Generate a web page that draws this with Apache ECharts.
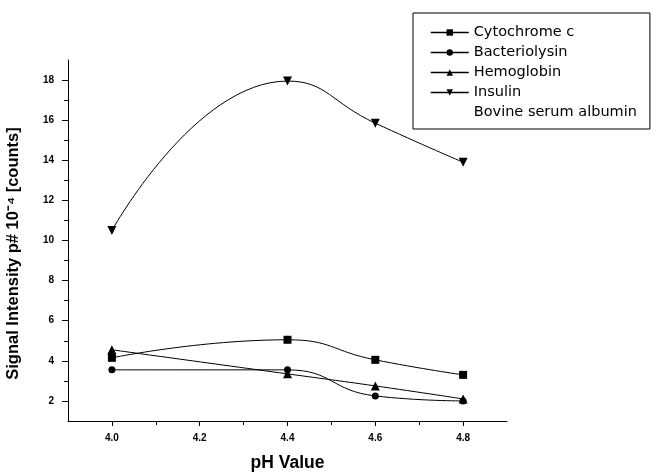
<!DOCTYPE html>
<html>
<head>
<meta charset="utf-8">
<script src="https://cdn.jsdelivr.net/npm/echarts@6/dist/echarts.min.js"></script>
<style>
    html, body { margin: 0; padding: 0; background: #fff; }
    #main { width: 653px; height: 472px; }
</style>
</head>
<body>
<div id="main"></div>
<script>
// values
var phValues = [4.0, 4.4, 4.6, 4.8];
var cytochrome = [4.15, 5.05, 4.05, 3.3];
var bacteriolysin = [3.55, 3.55, 2.25, 2.0];
var hemoglobin = [4.55, 3.35, 2.75, 2.1];
var insulin = [10.5, 17.95, 15.85, 13.9];

var xMajor = [4.0, 4.2, 4.4, 4.6, 4.8];
var xMinor = [4.1, 4.3, 4.5, 4.7];
var yMajor = [2, 4, 6, 8, 10, 12, 14, 16, 18];
var yMinor = [3, 5, 7, 9, 11, 13, 15, 17];

function pairs(ys) {
    var out = [];
    for (var i = 0; i < phValues.length; i++) {
        out.push([phValues[i], ys[i]]);
    }
    return out;
}

var myChart = echarts.init(document.getElementById('main'));

var labelFont = {
    color: '#000',
    fontFamily: 'Liberation Sans',
    fontSize: 10,
    fontWeight: 'bold'
};

function lineSeries(name, data, symbol, size) {
    return {
        name: name,
        type: 'line',
        smooth: true,
        data: pairs(data),
        symbol: symbol,
        symbolSize: size,
        itemStyle: {color: '#000'},
        lineStyle: {color: '#000', width: 1},
        emphasis: {disabled: true}
    };
}

var option = {
    animation: false,
    backgroundColor: '#fff',
    grid: {left: 68, right: 146, top: 60, bottom: 51, containLabel: false, outerBoundsMode: 'none'},
    legend: {
        orient: 'vertical',
        left: 413,
        top: 13,
        padding: [12, 13, 9, 17],
        itemWidth: 38,
        itemHeight: 8,
        itemGap: 5,
        borderColor: '#000',
        borderWidth: 1,
        borderRadius: 0,
        lineStyle: {width: 1.5},
        textStyle: {color: '#000', fontFamily: 'DejaVu Sans', fontSize: 14.5, lineHeight: 14},
        data: ['Cytochrome c', 'Bacteriolysin', 'Hemoglobin', 'Insulin', 'Bovine serum albumin']
    },
    xAxis: [{
        type: 'value',
        min: 3.9,
        max: 4.9,
        name: 'pH Value',
        nameLocation: 'middle',
        nameGap: 33,
        nameTextStyle: {color: '#000', fontFamily: 'Liberation Sans', fontSize: 17.5, fontWeight: 'bold'},
        axisLine: {onZero: false, lineStyle: {color: '#000', width: 1}},
        axisTick: {show: true, length: 5, customValues: xMajor, lineStyle: {color: '#000'}},
        axisLabel: Object.assign({margin: 12, customValues: xMajor, formatter: function (v) { return v.toFixed(1); }}, labelFont),
        splitLine: {show: false}
    }, {
        type: 'value',
        min: 3.9,
        max: 4.9,
        position: 'bottom',
        axisLine: {show: false},
        axisTick: {show: true, length: 4, customValues: xMinor, lineStyle: {color: '#000'}},
        axisLabel: {show: false},
        splitLine: {show: false}
    }],
    yAxis: [{
        type: 'value',
        min: 1,
        max: 19,
        name: 'Signal Intensity p# 10\u207B\u2074 [counts]',
        nameLocation: 'middle',
        nameGap: 46,
        nameTextStyle: {color: '#000', fontFamily: 'Liberation Sans', fontSize: 16.5, fontWeight: 'bold', padding: [0, 26, 0, 0]},
        axisLine: {show: true, onZero: false, lineStyle: {color: '#000', width: 1}},
        axisTick: {show: true, length: 6, customValues: yMajor, lineStyle: {color: '#000'}},
        axisLabel: Object.assign({margin: 14, customValues: yMajor}, labelFont),
        splitLine: {show: false}
    }, {
        type: 'value',
        min: 1,
        max: 19,
        position: 'left',
        axisLine: {show: false},
        axisTick: {show: true, length: 4, customValues: yMinor, lineStyle: {color: '#000'}},
        axisLabel: {show: false},
        splitLine: {show: false}
    }],
    series: [
        lineSeries('Cytochrome c', cytochrome, 'rect', 8),
        lineSeries('Bacteriolysin', bacteriolysin, 'circle', 7),
        lineSeries('Hemoglobin', hemoglobin, 'triangle', 9),
        lineSeries('Insulin', insulin, 'path://M0,0 L10,0 L5,9 Z', 9),
        {
            name: 'Bovine serum albumin',
            type: 'line',
            data: [],
            symbol: 'none',
            lineStyle: {opacity: 0},
            itemStyle: {opacity: 0}
        }
    ]
};

myChart.setOption(option);
</script>
</body>
</html>
